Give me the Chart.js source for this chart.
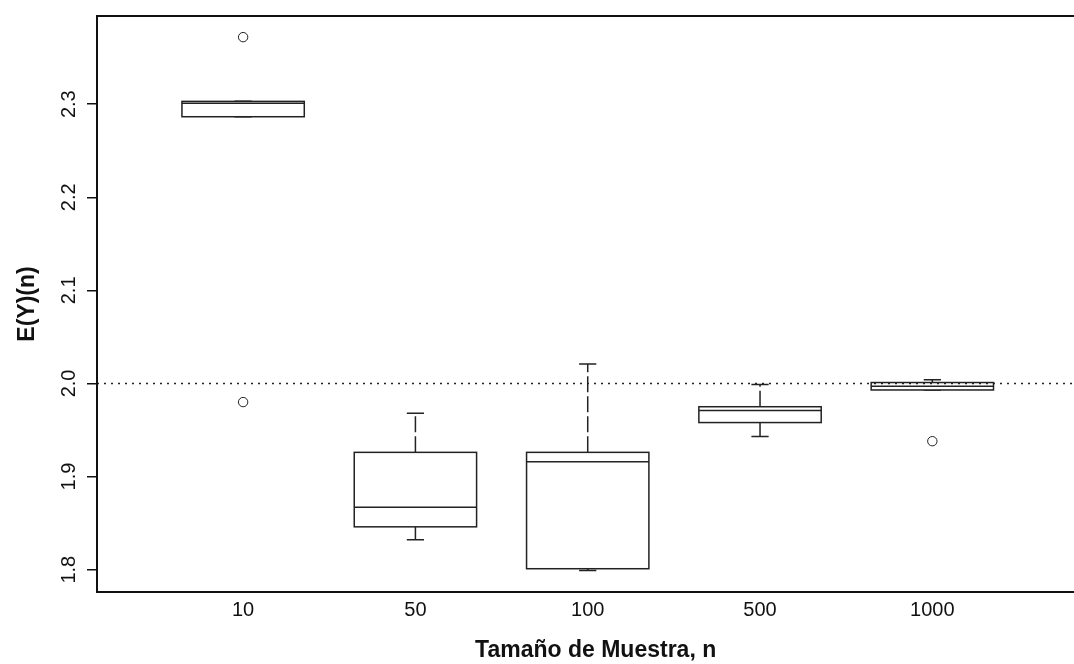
<!DOCTYPE html>
<html>
<head>
<meta charset="utf-8">
<script src="https://cdn.jsdelivr.net/npm/chart.js@4/dist/chart.umd.min.js"></script>
<style>
    html, body { margin: 0; padding: 0; background: #fff; overflow: hidden; }
    #wrap { position: relative; width: 1100px; height: 664px; }
</style>
</head>
<body>
<div id="wrap"><canvas id="boxes"></canvas></div>
<script>
// sample sizes and the five-number summaries for each one
let categories = ['10', '50', '100', '500', '1000'];
let whiskerLow = [2.2865, 1.832, 1.799, 1.943, 1.993];
let q1 = [2.2865, 1.846, 1.801, 1.958, 1.993];
let median = [2.301, 1.867, 1.916, 1.971, 1.997];
let q3 = [2.303, 1.926, 1.926, 1.975, 2.001];
let whiskerHigh = [2.303, 1.968, 2.021, 1.999, 2.004];

// outliers: position of the box (1-based) and value
let outlierPos = [1, 1, 5];
let outlierVal = [2.372, 1.980, 1.938];

let yTicks = [1.8, 1.9, 2.0, 2.1, 2.2, 2.3];
let referenceValue = 2.0;

const xMin = 0.152, xMax = 5.94;
const boxHalf = 0.355, capHalf = 0.05;
const ink = '#222';
const fontFamily = '"Liberation Sans", Arial, sans-serif';

let boxPlugin = {
    id: 'boxPlugin',
    beforeDatasetsDraw(chart) {
        let ctx = chart.ctx,
            x = chart.scales.x,
            y = chart.scales.y;

        ctx.save();
        ctx.strokeStyle = ink;
        ctx.lineWidth = 1.5;

        for (let i = 0; i < categories.length; i++) {
            let c = i + 1,
                left = x.getPixelForValue(c - boxHalf),
                right = x.getPixelForValue(c + boxHalf),
                mid = x.getPixelForValue(c),
                capL = x.getPixelForValue(c - capHalf),
                capR = x.getPixelForValue(c + capHalf),
                yQ1 = y.getPixelForValue(q1[i]),
                yQ3 = y.getPixelForValue(q3[i]),
                yMed = y.getPixelForValue(median[i]),
                yLo = y.getPixelForValue(whiskerLow[i]),
                yHi = y.getPixelForValue(whiskerHigh[i]);

            // dashed whiskers
            ctx.setLineDash([16, 4]);
            ctx.beginPath();
            ctx.moveTo(mid, yQ3);
            ctx.lineTo(mid, yHi);
            ctx.moveTo(mid, yQ1);
            ctx.lineTo(mid, yLo);
            ctx.stroke();
            ctx.setLineDash([]);

            // whisker caps
            ctx.beginPath();
            ctx.moveTo(capL, yHi);
            ctx.lineTo(capR, yHi);
            ctx.moveTo(capL, yLo);
            ctx.lineTo(capR, yLo);
            ctx.stroke();

            // box and median
            ctx.fillStyle = '#fff';
            ctx.fillRect(left, yQ3, right - left, yQ1 - yQ3);
            ctx.strokeRect(left, yQ3, right - left, yQ1 - yQ3);
            ctx.beginPath();
            ctx.moveTo(left, yMed);
            ctx.lineTo(right, yMed);
            ctx.stroke();
        }
        ctx.restore();
    },
    afterDraw(chart) {
        let a = chart.chartArea,
            ctx = chart.ctx;
        ctx.save();
        ctx.strokeStyle = '#111';
        ctx.lineWidth = 2;
        ctx.strokeRect(a.left, a.top, a.right - a.left, a.bottom - a.top);
        ctx.restore();
    }
};

let canvas = document.getElementById('boxes');
let chart = new Chart(canvas.getContext('2d'), {
    type: 'scatter',
    data: {
        datasets: [{
            type: 'line',
            data: [{x: xMin, y: referenceValue}, {x: xMax, y: referenceValue}],
            borderColor: ink,
            borderWidth: 1.5,
            borderDash: [2, 5],
            pointRadius: 0
        }, {
            data: outlierPos.map((p, i) => ({x: p, y: outlierVal[i]})),
            pointStyle: 'circle',
            pointRadius: 4.7,
            borderWidth: 1,
            borderColor: ink,
            backgroundColor: '#fff'
        }]
    },
    options: {
        animation: false,
        responsive: true,
        maintainAspectRatio: false,
        layout: {padding: {top: 11, right: 3, left: 0, bottom: 0}},
        plugins: {legend: {display: false}, tooltip: {enabled: false}},
        scales: {
            x: {
                type: 'linear',
                min: xMin,
                max: xMax,
                afterBuildTicks: scale => {
                    scale.ticks = categories.map((c, i) => ({value: i + 1}));
                },
                afterFit: scale => { scale.height = 72; },
                border: {display: false},
                grid: {display: false, drawTicks: false},
                ticks: {
                    color: '#111',
                    padding: 6,
                    maxRotation: 0,
                    font: {family: fontFamily, size: 20},
                    callback: value => categories[Math.round(value) - 1]
                },
                title: {
                    display: true,
                    text: 'Tamaño de Muestra, n',
                    color: '#111',
                    padding: {top: 0, bottom: 0},
                    font: {family: fontFamily, size: 23, weight: 'bold'}
                }
            },
            y: {
                min: 1.776,
                max: 2.3947,
                afterBuildTicks: scale => {
                    scale.ticks = yTicks.map(v => ({value: v}));
                },
                afterFit: scale => { scale.width = 97; },
                border: {display: false},
                grid: {
                    display: true,
                    drawOnChartArea: false,
                    drawTicks: true,
                    tickLength: 10,
                    color: '#111',
                    lineWidth: 1.5
                },
                ticks: {
                    color: '#111',
                    minRotation: 90,
                    maxRotation: 90,
                    crossAlign: 'center',
                    padding: 4,
                    font: {family: fontFamily, size: 20},
                    callback: value => value.toFixed(1)
                },
                title: {
                    display: true,
                    text: 'E(Y)(n)',
                    color: '#111',
                    padding: {top: 14, bottom: 0},
                    font: {family: fontFamily, size: 23, weight: 'bold'}
                }
            }
        }
    },
    plugins: [boxPlugin]
});
</script>
</body>
</html>
